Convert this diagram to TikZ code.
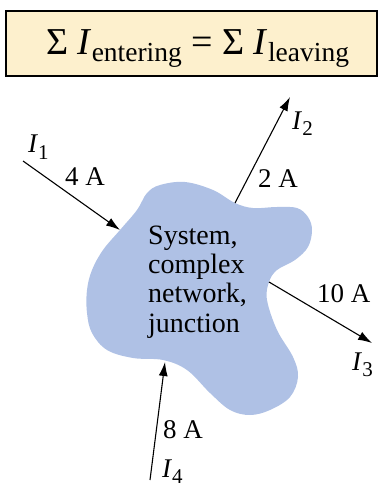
\documentclass[tikz,border=0pt]{standalone}
\usepackage{fontspec}
\setmainfont{Liberation Serif}
\usetikzlibrary{arrows.meta,positioning}
\definecolor{boxfill}{HTML}{FDF0CD}
\definecolor{blobfill}{HTML}{AFC1E5}
\newcommand{\Icur}[1]{\textit{I}\raisebox{-6pt}{\fontsize{21}{21}\selectfont #1}}
\newcommand{\Isum}[1]{\textit{I}\raisebox{-7pt}{\fontsize{27.5}{27.5}\selectfont #1}}
\tikzset{
  sig/.style = {-{Latex[length=14pt,width=9pt]}, line width=1.1pt},
  lbl/.style = {inner sep=0pt, anchor=base west, font=\fontsize{27}{29}\selectfont},
}

\begin{document}
\begin{tikzpicture}[x=1pt,y=-1pt,
  rulebox/.style={draw, line width=1.5pt, fill=boxfill, minimum width=371pt,
                  minimum height=65pt, inner sep=0pt},
  systext/.style={inner sep=0pt, anchor=base west, align=left,
                  font=\fontsize{28}{29.3}\selectfont}]
\useasboundingbox (0,0) rectangle (380,489);
% the rule in its box
\node[rulebox] (rule) at (191.5,43.5) {};
\node[inner sep=0pt, anchor=base, font=\fontsize{38}{38}\selectfont] (ruletext)
  at (197.5,55) {Σ \Isum{entering} = Σ \Isum{leaving}};
% the system
\fill[blobfill] plot[smooth cycle, tension=0.6] coordinates {
  (120,230) (137,210) (147,193) (160,185) (185,182) (213,190) (235,203)
  (253,208) (277,207) (297,208) (308,217) (312,230) (308,247) (295,260)
  (277,270) (269,282) (267,300) (277,330) (293,357) (298,377) (290,397)
  (270,410) (250,415) (230,410) (210,393) (187,370) (163,360) (133,358)
  (107,350) (92,333) (87,313) (87,290) (92,270) (103,250)};
\node[systext] (sys) at (148,332) {System,\\complex\\network,\\junction};
% currents
\coordinate (i1s) at (23,161);  \coordinate (i1e) at (120,230);
\coordinate (i2s) at (235,203); \coordinate (i2e) at (290,97);
\coordinate (i3s) at (269,282); \coordinate (i3e) at (372,343);
\coordinate (i4s) at (150,480); \coordinate (i4e) at (165,362);
\foreach \a/\b in {i1s/i1e,i2s/i2e,i3s/i3e,i4s/i4e}
  \draw[sig] (\a) -- (\b);
\node[lbl] (n1) at (28,153)  {\Icur{1}};
\node[lbl] (a1) at (65,185)  {4 A};
\node[lbl] (n2) at (292,130) {\Icur{2}};
\node[lbl] (a2) at (258,187) {2 A};
\node[lbl] (a3) at (317,302) {10 A};
\node[lbl] (n3) at (352,370) {\Icur{3}};
\node[lbl] (a4) at (163,438) {8 A};
\node[lbl] (n4) at (162,477) {\Icur{4}};
\end{tikzpicture}
\end{document}
